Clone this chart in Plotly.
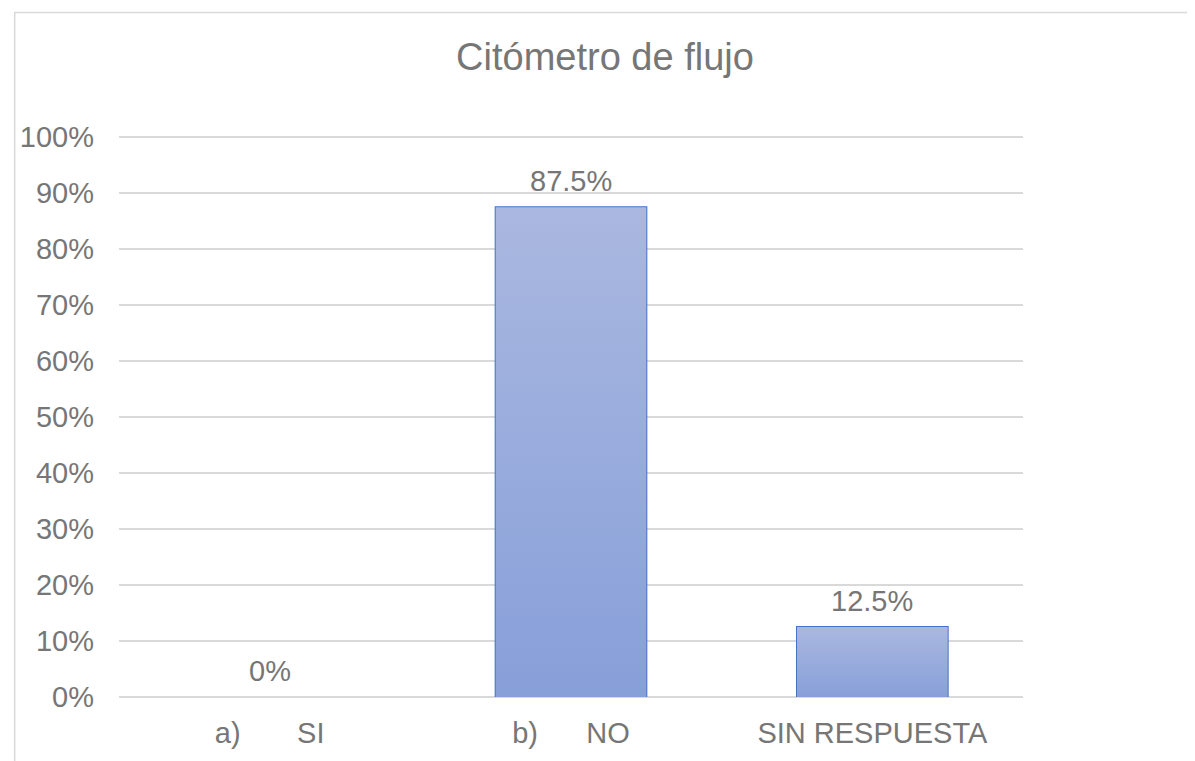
import plotly.graph_objects as go

categories = ["a)\u00a0\u00a0\u00a0\u00a0\u00a0\u00a0\u00a0SI", "b)\u00a0\u00a0\u00a0\u00a0\u00a0\u00a0NO", "SIN RESPUESTA"]
values = [0.0, 0.875, 0.125]
value_labels = ["0%", "87.5%", "12.5%"]
y_ticks = [0, 0.1, 0.2, 0.3, 0.4, 0.5, 0.6, 0.7, 0.8, 0.9, 1.0]

BAR_W = 0.5
TEXT = "#767676"
GRID = "#D9D9D9"
EDGE = "#4472C4"
FONT = "Liberation Sans, Arial"
FS = 29

# figure sits 8px inside the page (body margin)
W, H = 1187, 753
Y_MAX = 1.02
PLOT_H_100 = 561  # pixels from 0% to 100%
L, R, B = 105, 172, 63
PH = PLOT_H_100 * Y_MAX
T = H - B - PH

fig = go.Figure()
xs = list(range(len(categories)))

# gradient fills
for i, v in zip(xs, values):
    if v <= 0:
        continue
    fig.add_trace(go.Scatter(
        x=[i - BAR_W / 2, i + BAR_W / 2, i + BAR_W / 2, i - BAR_W / 2, i - BAR_W / 2],
        y=[0, 0, v, v, 0],
        mode="lines", fill="toself",
        line=dict(width=0, color="rgba(0,0,0,0)"),
        fillgradient=dict(type="vertical",
                          colorscale=[[0, "#879FD9"], [1, "#AAB8E0"]]),
        hoverinfo="skip", showlegend=False,
    ))

# bar outlines
fig.add_trace(go.Bar(
    x=xs, y=values, width=BAR_W,
    marker=dict(color="rgba(0,0,0,0)",
                line=dict(color=[EDGE if v > 0 else "rgba(0,0,0,0)" for v in values], width=2)),
    showlegend=False,
))

for i, v, lab in zip(xs, values, value_labels):
    fig.add_annotation(x=i, y=v, text=lab, showarrow=False, yanchor="bottom",
                       yshift=8, font=dict(size=FS, color=TEXT, family=FONT))

pw = W - L - R
fig.add_shape(type="rect", xref="paper", yref="paper",
              x0=(0 - L) / pw, x1=(W + 20 - L) / pw,
              y0=(H - B - (H + 20)) / PH, y1=(H - B - 4) / PH,
              line=dict(color=GRID, width=1.5), fillcolor="rgba(0,0,0,0)", layer="below")

fig.update_layout(
    width=W, height=H,
    margin=dict(l=L, r=R, t=T, b=B),
    paper_bgcolor="white", plot_bgcolor="white",
    font=dict(family=FONT, color=TEXT, size=FS),
    title=dict(text="Citómetro de flujo", x=597 / W, xref="container", xanchor="center",
               y=1 - 49 / H, yref="container", yanchor="middle",
               font=dict(size=38, color=TEXT)),
    xaxis=dict(range=[-0.5, 2.5], tickvals=xs, ticktext=categories,
               showgrid=False, zeroline=False, showline=False, ticks="",
               ticklabelstandoff=16, tickfont=dict(size=FS, color=TEXT)),
    yaxis=dict(range=[0, Y_MAX], tickvals=y_ticks, tickformat=".0%",
               showgrid=True, gridcolor=GRID, gridwidth=1.5,
               zeroline=True, zerolinecolor=GRID, zerolinewidth=1.5,
               showline=False, ticks="", ticklabelstandoff=24,
               tickfont=dict(size=FS, color=TEXT)),
)

fig.write_html("out.html")
